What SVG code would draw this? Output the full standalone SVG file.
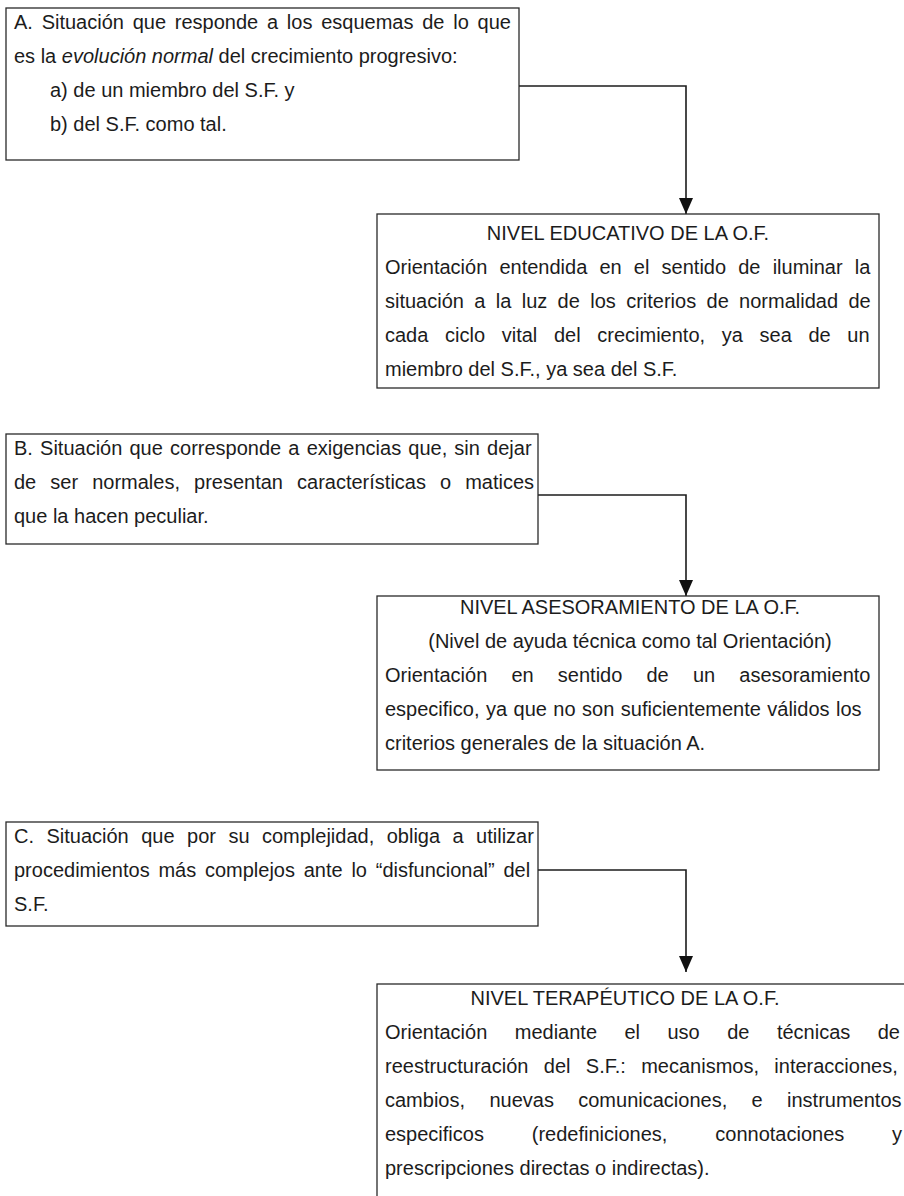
<svg xmlns="http://www.w3.org/2000/svg" width="904" height="1196" viewBox="0 0 904 1196">
<defs>
<style>
.box{fill:#fff;stroke:#2a2a2a;stroke-width:1.3}
.t{font-family:"Liberation Sans",Arial,sans-serif;font-size:20px;fill:#1c1c1c}
.c{text-anchor:middle}
.con{fill:none;stroke:#1c1c1c;stroke-width:1.6}
</style>
<marker id="ah" markerUnits="userSpaceOnUse" markerWidth="16" markerHeight="14" refX="16" refY="7" orient="auto">
<path d="M0,0 L16,7 L0,14 z" fill="#111"/>
</marker>
</defs>
<rect width="904" height="1196" fill="#fff"/>

<g id="connectors">
<path class="con" d="M519,86 H686 V214" marker-end="url(#ah)"/>
<path class="con" d="M538,495 H686 V596" marker-end="url(#ah)"/>
<path class="con" d="M538,870 H686 V972" marker-end="url(#ah)"/>
</g>

<g id="nodeA">
<rect class="box" x="6" y="8" width="513" height="152"/>
<text class="t" x="14" y="29" style="word-spacing:3.2px">A. Situación que responde a los esquemas de lo que</text>
<text class="t" x="14" y="63">es la <tspan font-style="italic">evolución normal</tspan> del crecimiento progresivo:</text>
<text class="t" x="50" y="97">a) de un miembro del S.F. y</text>
<text class="t" x="50" y="131">b) del S.F. como tal.</text>
</g>

<g id="nodeEducativo">
<rect class="box" x="377" y="214" width="502" height="174"/>
<text class="t c" x="628" y="240">NIVEL EDUCATIVO DE LA O.F.</text>
<text class="t" x="385" y="274" style="word-spacing:6.6px">Orientación entendida en el sentido de iluminar la</text>
<text class="t" x="385" y="308" style="word-spacing:4.8px">situación a la luz de los criterios de normalidad de</text>
<text class="t" x="385" y="342" style="word-spacing:11.1px">cada ciclo vital del crecimiento, ya sea de un</text>
<text class="t" x="385" y="376">miembro del S.F., ya sea del S.F.</text>
</g>

<g id="nodeB">
<rect class="box" x="6" y="434" width="532" height="110"/>
<text class="t" x="14" y="455" style="word-spacing:1.6px">B. Situación que corresponde a exigencias que, sin dejar</text>
<text class="t" x="14" y="489" style="word-spacing:8.5px">de ser normales, presentan características o matices</text>
<text class="t" x="14" y="523">que la hacen peculiar.</text>
</g>

<g id="nodeAsesoramiento">
<rect class="box" x="377" y="596" width="502" height="174"/>
<text class="t c" x="630" y="614">NIVEL ASESORAMIENTO DE LA O.F.</text>
<text class="t c" x="630" y="648">(Nivel de ayuda técnica como tal Orientación)</text>
<text class="t" x="385" y="682" style="word-spacing:18.6px">Orientación en sentido de un asesoramiento</text>
<text class="t" x="385" y="716" style="word-spacing:0.9px">especifico, ya que no son suficientemente válidos los</text>
<text class="t" x="385" y="750">criterios generales de la situación A.</text>
</g>

<g id="nodeC">
<rect class="box" x="6" y="822" width="532" height="104"/>
<text class="t" x="14" y="843" style="word-spacing:6.9px">C. Situación que por su complejidad, obliga a utilizar</text>
<text class="t" x="14" y="877" style="word-spacing:3.2px">procedimientos más complejos ante lo “disfuncional” del</text>
<text class="t" x="14" y="911">S.F.</text>
</g>

<g id="nodeTerapeutico">
<rect class="box" x="377" y="984" width="560" height="240"/>
<text class="t c" x="625" y="1005">NIVEL TERAPÉUTICO DE LA O.F.</text>
<text class="t" x="385" y="1039" style="word-spacing:21.9px">Orientación mediante el uso de técnicas de</text>
<text class="t" x="385" y="1073" style="word-spacing:9.8px">reestructuración del S.F.: mecanismos, interacciones,</text>
<text class="t" x="385" y="1107" style="word-spacing:18.8px">cambios, nuevas comunicaciones, e instrumentos</text>
<text class="t" x="385" y="1141" style="word-spacing:42.3px">especificos (redefiniciones, connotaciones y</text>
<text class="t" x="385" y="1175">prescripciones directas o indirectas).</text>
</g>
</svg>
